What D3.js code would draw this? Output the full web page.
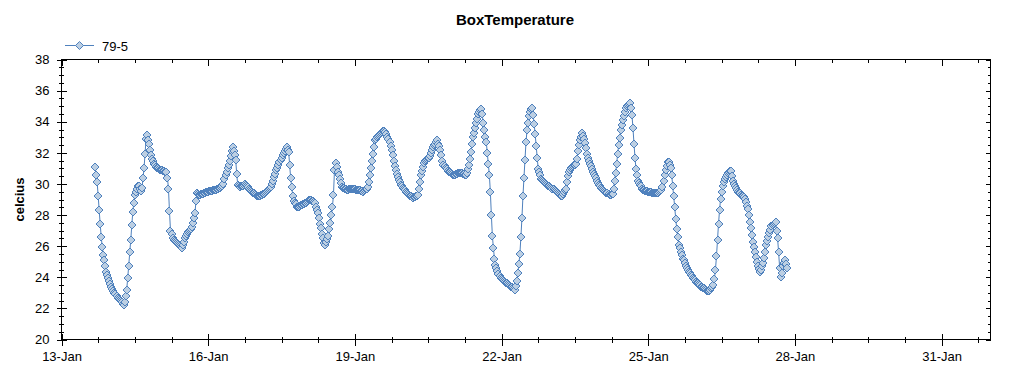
<!DOCTYPE html>
<html>
<head>
<meta charset="utf-8">
<script src="https://cdn.jsdelivr.net/npm/d3@7"></script>
<style>
body { margin: 0; background: #fff; }
svg { display: block; font-family: "Liberation Sans", Arial, sans-serif; }
.axis text { font-size: 13px; fill: #000; }
.axis path, .axis line { stroke: #000; shape-rendering: crispEdges; }
</style>
</head>
<body>
<svg id="chart" width="1024" height="375"></svg>
<script>
var title = "BoxTemperature";
var seriesName = "79-5";
var yLabel = "celcius";

// first reading 13-Jan 16:30, one reading every half hour after that
var firstReading = Date.UTC(2010, 0, 13, 16, 30);
var stepMs = 30 * 60 * 1000;
var celsius = [
  31.1, 30.6, 30.1, 29.25, 28.3, 27.4, 26.6, 25.95, 25.45, 25.1,
  24.7, 24.37, 24.15, 23.95, 23.75, 23.55, 23.4, 23.27, 23.15, 23.0,
  22.9, 22.77, 22.68, 22.6, 22.52, 22.45, 22.38, 22.3, 22.22, 22.4,
  22.8, 23.2, 23.95, 24.75, 25.6, 26.4, 27.35, 28.2, 28.8, 29.3,
  29.5, 29.7, 29.85, 29.85, 29.7, 29.55, 29.75, 30.35, 31.0, 31.9,
  32.9, 33.15, 32.85, 32.55, 32.2, 31.85, 31.6, 31.45, 31.3, 31.2,
  31.1, 31.05, 31.0, 30.95, 30.9, 30.9, 30.87, 30.85, 30.83, 30.8,
  30.8, 30.4, 29.7, 28.25, 27.0, 26.8, 26.55, 26.4, 26.33, 26.25,
  26.2, 26.15, 26.08, 26.0, 25.95, 25.9, 26.1, 26.3, 26.5, 26.65,
  26.8, 26.9, 26.97, 27.05, 27.12, 27.25, 27.5, 27.8, 28.1, 28.9,
  29.4, 29.35, 29.32, 29.3, 29.33, 29.35, 29.38, 29.4, 29.45, 29.5,
  29.5, 29.5, 29.52, 29.55, 29.55, 29.55, 29.58, 29.6, 29.6, 29.6,
  29.65, 29.7, 29.72, 29.75, 29.8, 29.85, 30.0, 30.3, 30.6, 30.8,
  31.0, 31.25, 31.5, 31.8, 32.1, 32.4, 32.15, 31.85, 31.55, 30.65,
  29.95, 29.9, 29.82, 29.85, 29.88, 29.9, 29.95, 30.0, 29.92, 29.85,
  29.78, 29.7, 29.62, 29.55, 29.5, 29.45, 29.4, 29.35, 29.3, 29.25,
  29.2, 29.2, 29.25, 29.3, 29.32, 29.35, 29.38, 29.4, 29.48, 29.55,
  29.6, 29.65, 29.72, 29.8, 29.98, 30.2, 30.42, 30.65, 30.88, 31.05,
  31.22, 31.4, 31.55, 31.7, 31.85, 32.0, 32.12, 32.25, 32.4, 32.2,
  32.05, 31.2, 30.35, 29.8, 29.25, 28.9, 28.8, 28.7, 28.55, 28.5,
  28.55, 28.6, 28.62, 28.65, 28.68, 28.7, 28.75, 28.8, 28.85, 28.9,
  28.95, 29.0, 28.95, 28.9, 28.88, 28.85, 28.75, 28.5, 28.3, 28.1,
  27.8, 27.45, 27.15, 26.8, 26.5, 26.2, 26.05, 26.25, 26.45, 26.65,
  27.1, 27.5, 28.0, 28.55, 29.3, 30.9, 31.35, 31.1, 30.8, 30.55,
  30.3, 30.05, 29.8, 29.75, 29.72, 29.7, 29.65, 29.6, 29.62, 29.65,
  29.65, 29.65, 29.68, 29.7, 29.68, 29.65, 29.62, 29.6, 29.6, 29.6,
  29.58, 29.55, 29.52, 29.5, 29.55, 29.6, 29.65, 29.7, 29.8, 30.15,
  30.6, 31.05, 31.5, 31.95, 32.4, 32.8, 32.9, 33.0, 33.08, 33.15,
  33.22, 33.3, 33.35, 33.4, 33.38, 33.35, 33.2, 33.05, 32.9, 32.7,
  32.45, 32.2, 31.85, 31.5, 31.15, 30.9, 30.65, 30.45, 30.25, 30.1,
  29.95, 29.85, 29.75, 29.7, 29.6, 29.5, 29.42, 29.35, 29.3, 29.25,
  29.2, 29.15, 29.1, 29.15, 29.18, 29.2, 29.25, 29.3, 29.65, 30.1,
  30.55, 30.85, 31.1, 31.35, 31.5, 31.55, 31.6, 31.65, 31.68, 31.8,
  32.0, 32.2, 32.4, 32.5, 32.6, 32.7, 32.8, 32.6, 32.45, 32.2,
  31.85, 31.5, 31.25, 31.15, 31.05, 30.95, 30.85, 30.8, 30.75, 30.7,
  30.65, 30.6, 30.6, 30.6, 30.62, 30.65, 30.68, 30.7, 30.7, 30.7,
  30.68, 30.65, 30.62, 30.6, 30.6, 30.7, 30.95, 31.25, 31.6, 32.05,
  32.55, 33.0, 33.3, 33.6, 33.9, 34.2, 34.5, 34.6, 34.75, 34.8,
  34.5, 33.9, 33.45, 33.05, 32.7, 32.0, 31.3, 30.6, 29.5, 28.0,
  26.65, 25.9, 25.2, 24.8, 24.6, 24.4, 24.2, 24.05, 23.95, 23.9,
  23.82, 23.75, 23.7, 23.65, 23.6, 23.55, 23.5, 23.45, 23.4, 23.35,
  23.3, 23.25, 23.2, 23.45, 23.75, 24.3, 24.85, 25.5, 26.6, 27.8,
  29.2, 30.4, 31.55, 32.7, 33.45, 33.9, 34.35, 34.65, 34.8, 34.9,
  34.45, 33.85, 33.2, 32.45, 31.7, 30.95, 30.75, 30.55, 30.3, 30.25,
  30.18, 30.1, 30.05, 30.0, 29.95, 29.9, 29.85, 29.8, 29.75, 29.7,
  29.65, 29.6, 29.55, 29.5, 29.42, 29.35, 29.3, 29.25, 29.22, 29.35,
  29.48, 29.6, 29.7, 30.1, 30.5, 30.75, 30.9, 31.05, 31.12, 31.15,
  31.2, 31.25, 31.28, 31.6, 32.1, 32.5, 32.8, 33.05, 33.3, 33.1,
  32.9, 32.65, 32.3, 31.95, 31.65, 31.5, 31.3, 31.15, 30.95, 30.8,
  30.65, 30.5, 30.35, 30.2, 30.05, 29.95, 29.85, 29.75, 29.65, 29.6,
  29.55, 29.5, 29.45, 29.4, 29.35, 29.3, 29.32, 29.35, 29.38, 29.7,
  30.2, 30.7, 31.3, 31.95, 32.5, 32.95, 33.45, 33.8, 34.1, 34.4,
  34.65, 34.9, 35.0, 35.05, 35.12, 35.2, 34.85, 34.45, 33.6, 32.6,
  31.7, 30.95, 30.55, 30.2, 30.05, 29.95, 29.85, 29.7, 29.6, 29.6,
  29.57, 29.55, 29.52, 29.5, 29.5, 29.5, 29.48, 29.45, 29.45, 29.45,
  29.42, 29.4, 29.4, 29.45, 29.5, 29.55, 29.62, 29.8, 30.2, 30.6,
  30.9, 31.15, 31.4, 31.4, 31.2, 31.0, 30.6, 29.9, 29.2, 28.5,
  27.75, 27.1, 26.6, 26.1, 25.85, 25.65, 25.45, 25.2, 25.08, 24.95,
  24.75, 24.6, 24.45, 24.35, 24.25, 24.15, 24.05, 23.95, 23.88, 23.8,
  23.72, 23.65, 23.6, 23.55, 23.48, 23.4, 23.35, 23.3, 23.28, 23.25,
  23.2, 23.15, 23.12, 23.1, 23.2, 23.3, 23.4, 23.5, 23.9, 24.5,
  25.35, 26.4, 27.45, 28.3, 29.05, 29.5, 29.85, 30.1, 30.3, 30.45,
  30.6, 30.7, 30.78, 30.85, 30.85, 30.5, 30.2, 30.0, 29.88, 29.75,
  29.62, 29.5, 29.45, 29.4, 29.32, 29.25, 29.2, 29.15, 29.05, 28.85,
  28.6, 28.4, 28.0, 27.55, 27.15, 26.7, 26.3, 25.95, 25.6, 25.3,
  25.0, 24.75, 24.55, 24.35, 24.45, 24.7, 24.95, 25.25, 25.65, 26.05,
  26.35, 26.6, 26.85, 27.05, 27.3, 27.35, 27.45, 27.5, 27.55, 27.0,
  26.5, 25.6, 24.6, 24.0, 24.3, 24.7, 24.9, 25.1, 24.85, 24.6
];

var xDomain = ["2010-01-13", "2010-02-01"];
var xMajorTicks = ["2010-01-13", "2010-01-16", "2010-01-19", "2010-01-22",
                   "2010-01-25", "2010-01-28", "2010-01-31"];
var yDomain = [20, 38];
var yMajorTicks = [20, 22, 24, 26, 28, 30, 32, 34, 36, 38];

var lineColor = "#4f81bd";
var markerFill = "#bccfe3";

var svg = d3.select("#chart");
var plotLeft = 61.5, plotRight = 990.5, plotTop = 59.5, plotBottom = 339.5;

var data = celsius.map(function(v, i) {
    return {t: new Date(firstReading + i * stepMs), v: v};
});

var x = d3.scaleUtc()
    .domain(xDomain.map(function(d) { return new Date(d); }))
    .range([plotLeft, plotRight]);
var y = d3.scaleLinear()
    .domain(yDomain)
    .range([plotBottom, plotTop]);

var xMajor = xMajorTicks.map(function(d) { return new Date(d); });
var xStart = x.domain()[0];
// minor ticks every 18 hours (4 per major step)
var xMinor = d3.range(0, 19 * 24 + 1, 18)
    .map(function(h) { return d3.utcHour.offset(xStart, h); })
    .filter(function(d) { return d <= x.domain()[1]; });
var yMinor = d3.range(yDomain[0], yDomain[1] + 0.01, 0.5);

var fmt = d3.utcFormat("%-d-%b");

// frame
svg.append("rect")
    .attr("x", plotLeft).attr("y", plotTop)
    .attr("width", plotRight - plotLeft).attr("height", plotBottom - plotTop)
    .attr("fill", "none").attr("stroke", "#000")
    .attr("shape-rendering", "crispEdges");

function crossTicks(g, len, horizontal) {
    g.selectAll(".tick line")
      .attr(horizontal ? "y1" : "x1", -len)
      .attr(horizontal ? "y2" : "x2", len);
    g.select(".domain").remove();
}

// bottom axis
svg.append("g").attr("class", "axis")
    .attr("transform", "translate(0," + plotBottom + ")")
    .call(d3.axisBottom(x).tickValues(xMinor).tickFormat(""))
    .call(crossTicks, 3, true);
svg.append("g").attr("class", "axis")
    .attr("transform", "translate(0," + plotBottom + ")")
    .call(d3.axisBottom(x).tickValues(xMajor).tickFormat(fmt).tickSize(6).tickPadding(6))
    .call(crossTicks, 6, true);

// top axis (ticks inside)
svg.append("g").attr("class", "axis")
    .attr("transform", "translate(0," + plotTop + ")")
    .call(d3.axisTop(x).tickValues(xMinor).tickFormat("").tickSize(-3))
    .call(function(g) { g.select(".domain").remove(); });
svg.append("g").attr("class", "axis")
    .attr("transform", "translate(0," + plotTop + ")")
    .call(d3.axisTop(x).tickValues(xMajor).tickFormat("").tickSize(-6))
    .call(function(g) { g.select(".domain").remove(); });

// left axis
svg.append("g").attr("class", "axis")
    .attr("transform", "translate(" + plotLeft + ",0)")
    .call(d3.axisLeft(y).tickValues(yMinor).tickFormat(""))
    .call(crossTicks, 2.5, false);
svg.append("g").attr("class", "axis")
    .attr("transform", "translate(" + plotLeft + ",0)")
    .call(d3.axisLeft(y).tickValues(yMajorTicks).tickFormat(d3.format("d")).tickSize(5).tickPadding(7))
    .call(crossTicks, 5, false);

// right axis (ticks inside)
svg.append("g").attr("class", "axis")
    .attr("transform", "translate(" + plotRight + ",0)")
    .call(d3.axisRight(y).tickValues(yMinor).tickFormat("").tickSize(-2.5))
    .call(function(g) { g.select(".domain").remove(); });
svg.append("g").attr("class", "axis")
    .attr("transform", "translate(" + plotRight + ",0)")
    .call(d3.axisRight(y).tickValues(yMajorTicks).tickFormat("").tickSize(-4.5))
    .call(function(g) { g.select(".domain").remove(); });

// series
var line = d3.line()
    .x(function(d) { return x(d.t); })
    .y(function(d) { return y(d.v); });

svg.append("path")
    .datum(data)
    .attr("d", line)
    .attr("fill", "none")
    .attr("stroke", lineColor)
    .attr("stroke-width", 1);

var diamond = "M0,-4L4,0L0,4L-4,0Z";

svg.append("g")
    .attr("shape-rendering", "crispEdges")
  .selectAll("path")
  .data(data)
  .enter().append("path")
    .attr("d", diamond)
    .attr("transform", function(d) { return "translate(" + Math.round(x(d.t)) + "," + Math.round(y(d.v)) + ")"; })
    .attr("fill", markerFill)
    .attr("stroke", lineColor)
    .attr("stroke-width", 1);

// title and y label
svg.append("text")
    .attr("x", 515).attr("y", 25)
    .attr("text-anchor", "middle")
    .style("font-size", "15px").style("font-weight", "bold")
    .text(title);

svg.append("text")
    .attr("transform", "translate(23.5," + ((plotTop + plotBottom) / 2) + ") rotate(-90)")
    .attr("text-anchor", "middle")
    .style("font-size", "13px").style("font-weight", "bold")
    .text(yLabel);

// legend
var legend = svg.append("g").attr("transform", "translate(65,45.5)");
legend.append("line")
    .attr("x1", 0).attr("x2", 29)
    .attr("stroke", lineColor);
legend.append("path")
    .attr("d", diamond)
    .attr("transform", "translate(14.5,0)")
    .attr("fill", markerFill)
    .attr("stroke", lineColor);
legend.append("text")
    .attr("x", 37).attr("y", 5)
    .style("font-size", "13px")
    .text(seriesName);
</script>
</body>
</html>
